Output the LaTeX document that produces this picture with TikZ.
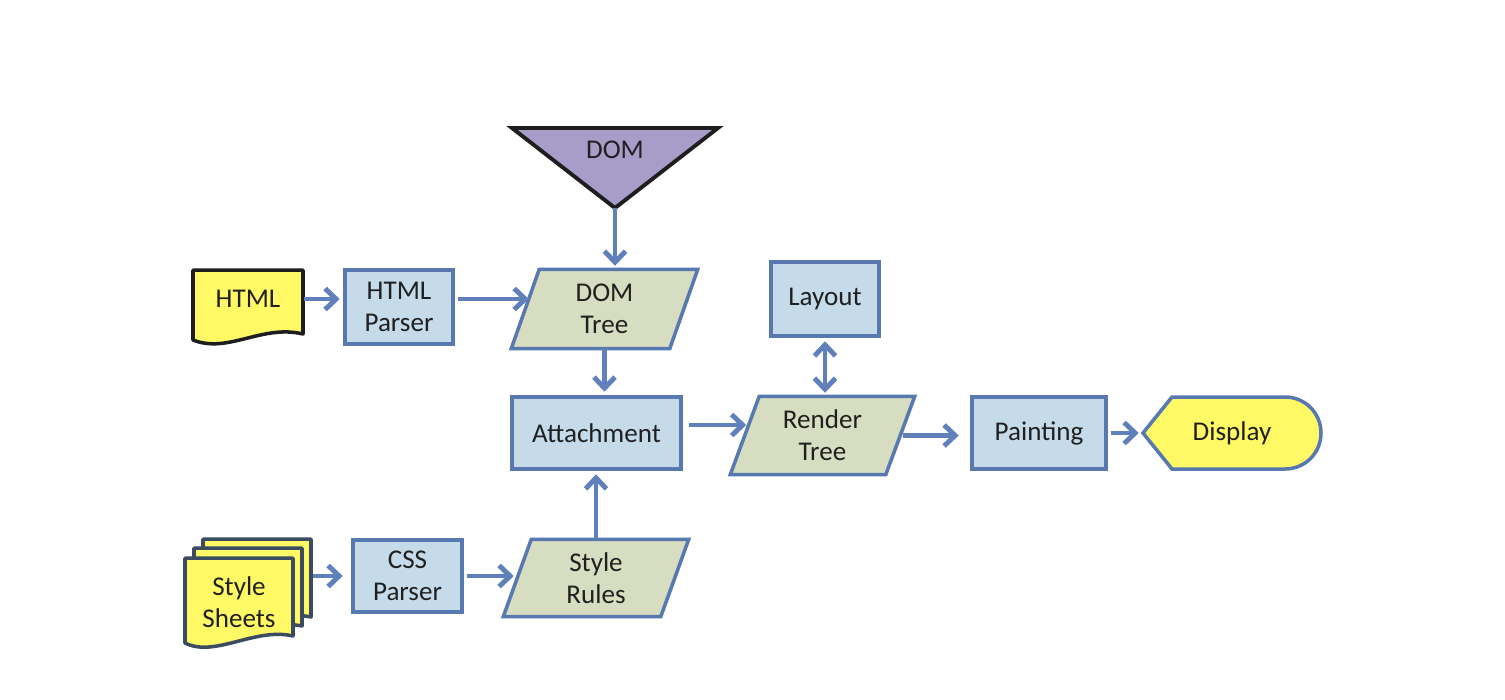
\documentclass[tikz,border=0pt]{standalone}
\usepackage{fontspec}
\setmainfont{Carlito}
\usetikzlibrary{arrows.meta,backgrounds}
\definecolor{boxfill}{HTML}{C5DBE9}
\definecolor{boxline}{HTML}{5779B0}
\definecolor{parafill}{HTML}{D6DDC0}
\definecolor{docfill}{HTML}{FFF966}
\definecolor{domfill}{HTML}{A89CC8}
\definecolor{arrowc}{HTML}{5F80BA}
\definecolor{txt}{HTML}{202020}
\definecolor{darkline}{HTML}{1E1E1E}
\definecolor{slateline}{HTML}{3C4C60}
\tikzset{
 lbl/.style={font=\fontsize{7.7}{9.1}\selectfont, text=txt, align=center, inner sep=0pt},
 box/.style={lbl, rectangle, draw=boxline, fill=boxfill, line width=1pt},
 area/.style={lbl, rectangle},
 paraline/.style={draw=boxline, fill=parafill, line width=1pt},
 docline/.style={draw=darkline, fill=docfill, line width=1pt, line join=round},
 sheetline/.style={draw=slateline, fill=docfill, line width=1pt, line join=round},
 displine/.style={draw=boxline, fill=docfill, line width=1pt},
 tip/.tip={Straight Barb[length=1.1mm,width=2.1mm]},
 flow/.style={draw=arrowc, line width=1.4pt, -tip, shorten >=1pt},
 bothflow/.style={draw=arrowc, line width=1.4pt, tip-tip, shorten >=1pt, shorten <=1pt},
}
\newcommand\paraframe[2]{\begin{scope}[on background layer]\draw[paraline] ([xshift=#2]#1.north west) -- ([xshift=#2]#1.north east) -- ([xshift=-#2]#1.south east) -- ([xshift=-#2]#1.south west) -- cycle;\end{scope}}
\begin{document}
\begin{tikzpicture}[x=0.01cm,y=-0.01cm]
\begin{scope}[on background layer]
\fill[white] (0,0) rectangle (1505,699);
\end{scope}
\useasboundingbox (0,0) rectangle (1505,699);

% DOM triangle
\draw[fill=domfill, draw=darkline, line width=1.1pt, line join=miter] (512,128) -- (718,128) -- (615,208) -- cycle;
\node[lbl] (dom) at (615,150) {DOM};
\coordinate (domapex) at (615,208);

% HTML document
\draw[docline] (193,270) -- (303,270) -- (303,334) .. controls (262,324) and (228,354) .. (193,340) -- cycle;
\node[area, minimum width=1.10cm, minimum height=0.6cm] (html) at (248,299) {HTML};

% HTML Parser
\node[box, minimum width=1.08cm, minimum height=0.74cm] (htmlp) at (399,307) {HTML\\Parser};

% DOM Tree
\node[area, minimum width=1.57cm, minimum height=0.78cm] (domtree) at (604.5,309) {DOM\\Tree};
\paraframe{domtree}{0.14cm}

% Layout
\node[box, minimum width=1.08cm, minimum height=0.74cm] (layout) at (825,299) {Layout};

% Attachment
\node[box, minimum width=1.69cm, minimum height=0.72cm] (attach) at (596.5,433) {Attachment};

% Render Tree
\node[area, minimum width=1.54cm, minimum height=0.77cm] (render) at (822.5,435.5) {Render\\Tree};
\paraframe{render}{0.145cm}

% Painting
\node[box, minimum width=1.34cm, minimum height=0.72cm] (paint) at (1039,433) {Painting};

% Display
\draw[displine] (1143,433) -- (1172,397) -- (1285,397) .. controls (1305,397) and (1321,413) .. (1321,433) .. controls (1321,453) and (1305,469) .. (1285,469) -- (1172,469) -- cycle;
\node[area, minimum width=1.78cm, minimum height=0.72cm] (display) at (1232,433) {Display};

% Style Sheets stack
\draw[sheetline] (203,539) -- (311,539) -- (311,617) .. controls (273,609) and (233,638) .. (203,624) -- cycle;
\draw[sheetline] (194,548) -- (302,548) -- (302,626) .. controls (264,618) and (224,647) .. (194,633) -- cycle;
\draw[sheetline] (185,558) -- (293,558) -- (293,636) .. controls (255,627) and (215,658) .. (185,643) -- cycle;
\node[area, minimum width=1.08cm, minimum height=0.78cm] (sheets) at (239,602) {Style\\Sheets};

% CSS Parser
\node[box, minimum width=1.09cm, minimum height=0.72cm] (cssp) at (407.5,576) {CSS\\Parser};

% Style Rules
\node[area, minimum width=1.56cm, minimum height=0.76cm] (rules) at (596,578) {Style\\Rules};
\paraframe{rules}{0.14cm}

% connectors
\draw[flow] (html.east) -- (htmlp.west |- html.east);
\draw[flow] ([xshift=0.03cm]htmlp.east |- html.east) -- ([xshift=0.07cm]domtree.west |- html.east);
\draw[flow] (domapex) -- (domapex |- domtree.north);
\draw[flow] (domtree.south) -- (domtree.south |- attach.north);
\draw[flow] ([xshift=0.06cm,yshift=0.08cm]attach.east) -- ([xshift=0.05cm,yshift=0.08cm]attach.east -| render.west);
\draw[bothflow] (layout.south) -- (layout.south |- render.north);
\draw[flow] ([xshift=0.03cm]render.east) -- ([xshift=-0.08cm]render.east -| paint.west);
\draw[flow] ([xshift=0.03cm]paint.east) -- (display.west);
\draw[flow] ([xshift=0.19cm]sheets.east |- cssp.west) -- ([xshift=-0.05cm]cssp.west);
\draw[flow] ([xshift=0.03cm]cssp.east) -- (cssp.east -| rules.west);
\draw[flow] (rules.north) -- (rules.north |- attach.south);
\end{tikzpicture}
\end{document}
